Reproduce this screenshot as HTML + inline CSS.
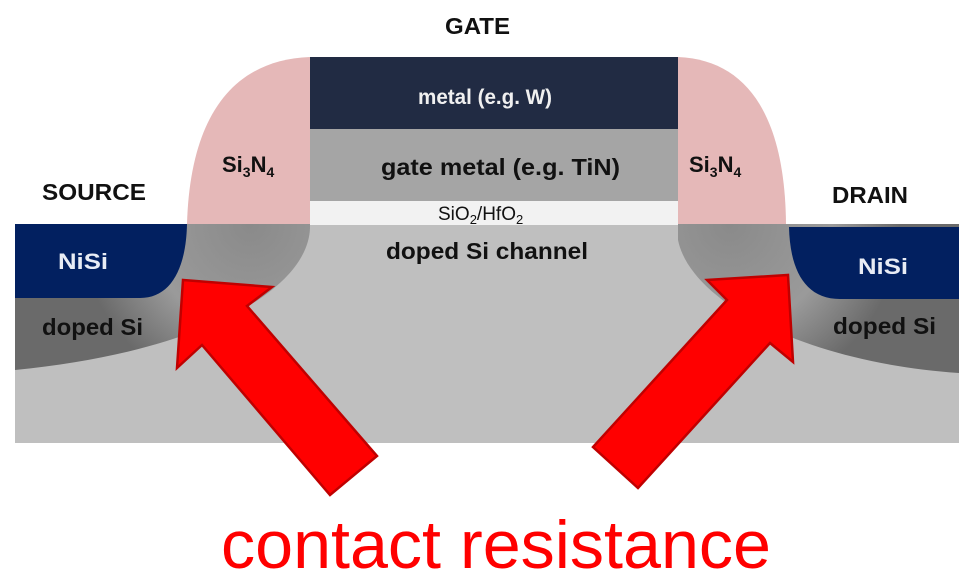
<!DOCTYPE html>
<html><head><meta charset="utf-8"><style>
html,body{margin:0;padding:0;background:#fff;}
svg{display:block;font-family:"Liberation Sans",Arial,sans-serif;}
</style></head><body>
<svg width="974" height="578" viewBox="0 0 974 578" xmlns="http://www.w3.org/2000/svg">
<defs>
<radialGradient id="gl" cx="250" cy="225" r="170" gradientUnits="userSpaceOnUse">
<stop offset="0" stop-color="#8a8a8a"/><stop offset="0.6" stop-color="#9a9a9a"/><stop offset="1" stop-color="#6a6a6a"/>
</radialGradient>
<radialGradient id="gr" cx="730" cy="225" r="170" gradientUnits="userSpaceOnUse">
<stop offset="0" stop-color="#8a8a8a"/><stop offset="0.6" stop-color="#9a9a9a"/><stop offset="1" stop-color="#6a6a6a"/>
</radialGradient>
</defs>
<rect x="15" y="224" width="944" height="219" fill="#bfbfbf"/>
<path d="M15 224 H310 V228 C308 290 200 352 15 370 Z" fill="url(#gl)"/>
<path d="M678 224 H959 V373 C800 362 690 300 678 240 Z" fill="url(#gr)"/>
<path d="M15 224 H187 C186 270 170 298 140 298 H15 Z" fill="#022060"/>
<path d="M789 227 H959 V299 H840 C805 299 790 270 789 227 Z" fill="#022060"/>
<path d="M310 57 C230 60 190 120 187 224 H310 Z" fill="#e5b8b8"/>
<path d="M678 57 C750 60 785 120 786 224 H678 Z" fill="#e5b8b8"/>
<rect x="310" y="57" width="368" height="72" fill="#212b43"/>
<rect x="310" y="129" width="368" height="72" fill="#a5a5a5"/>
<rect x="310" y="201" width="368" height="24" fill="#f2f2f2"/>
<g font-weight="bold" fill="#111">
<text x="445" y="34" font-size="23" textLength="65" lengthAdjust="spacingAndGlyphs">GATE</text>
<text x="42" y="200" font-size="23" textLength="104" lengthAdjust="spacingAndGlyphs">SOURCE</text>
<text x="832" y="203" font-size="23" textLength="76" lengthAdjust="spacingAndGlyphs">DRAIN</text>
<text x="418" y="104" font-size="21" textLength="134" lengthAdjust="spacingAndGlyphs" fill="#f0f0f0">metal (e.g. W)</text>
<text x="381" y="175" font-size="23" textLength="239" lengthAdjust="spacingAndGlyphs">gate metal  (e.g. TiN)</text>
<text x="386" y="259" font-size="23" textLength="202" lengthAdjust="spacingAndGlyphs">doped Si channel</text>
<text x="58" y="269" font-size="22" textLength="50" lengthAdjust="spacingAndGlyphs" fill="#e8ecf5">NiSi</text>
<text x="858" y="274" font-size="22" textLength="50" lengthAdjust="spacingAndGlyphs" fill="#e8ecf5">NiSi</text>
<text x="42" y="335" font-size="23" textLength="101" lengthAdjust="spacingAndGlyphs">doped Si</text>
<text x="833" y="334" font-size="23" textLength="103" lengthAdjust="spacingAndGlyphs">doped Si</text>
<text x="222" y="172" font-size="22">Si<tspan font-size="14" dy="5">3</tspan><tspan dy="-5">N</tspan><tspan font-size="14" dy="5">4</tspan></text>
<text x="689" y="172" font-size="22">Si<tspan font-size="14" dy="5">3</tspan><tspan dy="-5">N</tspan><tspan font-size="14" dy="5">4</tspan></text>
</g>
<text x="438" y="220" font-size="19" fill="#111">SiO<tspan font-size="13" dy="4">2</tspan><tspan dy="-4">/HfO</tspan><tspan font-size="13" dy="4">2</tspan></text>
<polygon points="183,280 272,287 247,306 377,456 330,495 202,345 177,368" fill="#ff0000" stroke="#c00000" stroke-width="2.5"/>
<polygon points="788,275 793,362 770,343 638,488 593,447 727,300 707,280" fill="#ff0000" stroke="#c00000" stroke-width="2.5"/>
<text x="496" y="568" font-size="68" text-anchor="middle" fill="#ff0000" textLength="550" lengthAdjust="spacingAndGlyphs">contact resistance</text>
</svg>
</body></html>
